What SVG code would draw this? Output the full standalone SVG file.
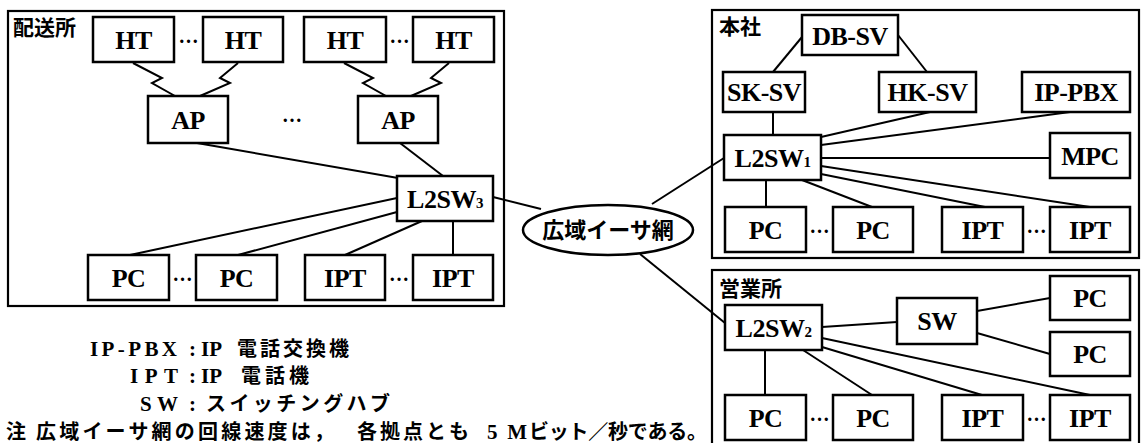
<svg xmlns="http://www.w3.org/2000/svg" width="1147" height="443" viewBox="0 0 1147 443">
<style>
.frame{fill:none;stroke:#000;stroke-width:2.2}
.box{fill:#fff;stroke:#000;stroke-width:2.5}
.wan{fill:#fff;stroke:#000;stroke-width:2.5}
.lbl{font-family:"Liberation Serif",serif;font-weight:bold;font-size:26px;letter-spacing:-0.5px;text-anchor:middle;fill:#000}
.sub{font-size:15px}
.area{font-family:"Noto Sans CJK JP",sans-serif;font-weight:bold;font-size:21px;fill:#000}
.dots{font-family:"Liberation Serif",serif;font-weight:bold;font-size:20px;text-anchor:middle;fill:#000}
.jp{font-family:"Noto Sans CJK JP",sans-serif;font-weight:bold;font-size:22px;fill:#000}
.jl{font-family:"Noto Sans CJK JP",sans-serif;font-weight:bold;font-size:20px;fill:#000}
.lat{font-family:"Liberation Serif",serif;font-weight:bold;font-size:21px;fill:#000}
#connectors line,#connectors polyline{stroke:#000;stroke-width:2;fill:none}
</style>

<g id="area-haisou"><rect class="frame" x="8" y="11" width="496" height="295"/><text class="area" x="13" y="35">配送所</text></g>
<g id="area-honsha"><rect class="frame" x="712" y="10" width="427" height="248"/><text class="area" x="719" y="34">本社</text></g>
<g id="area-eigyo"><rect class="frame" x="712" y="270" width="427" height="180"/><text class="area" x="719" y="296">営業所</text></g>

<g id="connectors">
  <polyline points="133,63 162,78 152,83 175,96"/>
  <polyline points="238,63 220,78 230,83 200,96"/>
  <polyline points="344,63 373,78 363,83 386,96"/>
  <polyline points="449,63 431,78 441,83 411,96"/>
  <line x1="197" y1="143" x2="398" y2="178"/>
  <line x1="400" y1="143" x2="443" y2="176"/>
  <line x1="397" y1="198" x2="130" y2="255"/>
  <line x1="397" y1="212" x2="238" y2="255"/>
  <line x1="422" y1="221" x2="345" y2="255"/>
  <line x1="453" y1="221" x2="453" y2="255"/>
  <line x1="493" y1="197" x2="541" y2="209"/>
  <line x1="652" y1="204" x2="724" y2="158"/>
  <line x1="640" y1="254" x2="725" y2="323"/>
  <line x1="802" y1="37" x2="773" y2="72"/>
  <line x1="898" y1="35" x2="927" y2="72"/>
  <line x1="773" y1="112" x2="773" y2="135"/>
  <line x1="930" y1="112" x2="821" y2="137"/>
  <line x1="1070" y1="112" x2="821" y2="145"/>
  <line x1="821" y1="158" x2="1050" y2="158"/>
  <line x1="821" y1="166" x2="1090" y2="207"/>
  <line x1="821" y1="174" x2="985" y2="207"/>
  <line x1="802" y1="180" x2="872" y2="207"/>
  <line x1="766" y1="180" x2="766" y2="207"/>
  <line x1="822" y1="327" x2="897" y2="322"/>
  <line x1="977" y1="311" x2="1050" y2="298"/>
  <line x1="977" y1="333" x2="1050" y2="354"/>
  <line x1="822" y1="338" x2="1090" y2="395"/>
  <line x1="822" y1="347" x2="982" y2="395"/>
  <line x1="803" y1="350" x2="872" y2="395"/>
  <line x1="765" y1="350" x2="765" y2="395"/>
</g>

<g id="ht1"><rect class="box" x="93" y="17" width="81" height="45"/><text class="lbl" x="133.5" y="49">HT</text></g>
<g id="ht2"><rect class="box" x="203" y="17" width="80" height="45"/><text class="lbl" x="243" y="49">HT</text></g>
<g id="ht3"><rect class="box" x="304" y="17" width="82" height="45"/><text class="lbl" x="345" y="49">HT</text></g>
<g id="ht4"><rect class="box" x="413" y="17" width="81" height="45"/><text class="lbl" x="453.5" y="49">HT</text></g>
<g id="ap1"><rect class="box" x="148" y="96" width="80" height="47"/><text class="lbl" x="188" y="129">AP</text></g>
<g id="ap2"><rect class="box" x="358" y="96" width="80" height="47"/><text class="lbl" x="398" y="129">AP</text></g>
<g id="l2sw3"><rect class="box" x="397" y="176" width="96" height="45"/><text class="lbl" x="445" y="208">L2SW<tspan class="sub">3</tspan></text></g>
<g id="pc-h1"><rect class="box" x="88" y="255" width="81" height="45"/><text class="lbl" x="128.5" y="287">PC</text></g>
<g id="pc-h2"><rect class="box" x="196" y="255" width="81" height="45"/><text class="lbl" x="236.5" y="287">PC</text></g>
<g id="ipt-h1"><rect class="box" x="305" y="255" width="80" height="45"/><text class="lbl" x="345" y="287">IPT</text></g>
<g id="ipt-h2"><rect class="box" x="413" y="255" width="80" height="45"/><text class="lbl" x="453" y="287">IPT</text></g>
<g id="dots-h"><text class="dots" x="188.5" y="43">…</text><text class="dots" x="399.5" y="43">…</text><text class="dots" x="292" y="122">…</text><text class="dots" x="182.5" y="281">…</text><text class="dots" x="399" y="281">…</text></g>

<g id="wan"><ellipse class="wan" cx="608" cy="230" rx="85" ry="25"/><text class="jp" x="608" y="238" text-anchor="middle">広域イーサ網</text></g>

<g id="dbsv"><rect class="box" x="802" y="15" width="96" height="40"/><text class="lbl" x="850" y="45">DB-SV</text></g>
<g id="sksv"><rect class="box" x="723" y="72" width="82" height="40"/><text class="lbl" x="764" y="101">SK-SV</text></g>
<g id="hksv"><rect class="box" x="879" y="72" width="97" height="40"/><text class="lbl" x="927.5" y="101">HK-SV</text></g>
<g id="ippbx"><rect class="box" x="1022" y="72" width="108" height="40"/><text class="lbl" x="1076" y="101">IP-PBX</text></g>
<g id="l2sw1"><rect class="box" x="724" y="135" width="97" height="45"/><text class="lbl" x="772.5" y="167">L2SW<tspan class="sub">1</tspan></text></g>
<g id="mpc"><rect class="box" x="1050" y="133" width="80" height="45"/><text class="lbl" x="1090" y="165">MPC</text></g>
<g id="pc-s1"><rect class="box" x="725" y="207" width="81" height="45"/><text class="lbl" x="765.5" y="239">PC</text></g>
<g id="pc-s2"><rect class="box" x="833" y="207" width="80" height="45"/><text class="lbl" x="873" y="239">PC</text></g>
<g id="ipt-s1"><rect class="box" x="942" y="207" width="81" height="45"/><text class="lbl" x="982.5" y="239">IPT</text></g>
<g id="ipt-s2"><rect class="box" x="1050" y="207" width="80" height="45"/><text class="lbl" x="1090" y="239">IPT</text></g>
<g id="dots-s"><text class="dots" x="819.5" y="233">…</text><text class="dots" x="1036.5" y="233">…</text></g>

<g id="l2sw2"><rect class="box" x="725" y="305" width="97" height="45"/><text class="lbl" x="773.5" y="337">L2SW<tspan class="sub">2</tspan></text></g>
<g id="sw"><rect class="box" x="897" y="298" width="80" height="46"/><text class="lbl" x="937" y="330">SW</text></g>
<g id="pc-e3"><rect class="box" x="1050" y="276" width="80" height="44"/><text class="lbl" x="1090" y="307">PC</text></g>
<g id="pc-e4"><rect class="box" x="1050" y="332" width="80" height="44"/><text class="lbl" x="1090" y="363">PC</text></g>
<g id="pc-e1"><rect class="box" x="725" y="395" width="81" height="45"/><text class="lbl" x="765.5" y="427">PC</text></g>
<g id="pc-e2"><rect class="box" x="833" y="395" width="80" height="45"/><text class="lbl" x="873" y="427">PC</text></g>
<g id="ipt-e1"><rect class="box" x="942" y="395" width="81" height="45"/><text class="lbl" x="982.5" y="427">IPT</text></g>
<g id="ipt-e2"><rect class="box" x="1050" y="395" width="80" height="45"/><text class="lbl" x="1090" y="427">IPT</text></g>
<g id="dots-e"><text class="dots" x="819.5" y="421">…</text><text class="dots" x="1036.5" y="421">…</text></g>

<g id="legend">
  <text class="lat" x="90" y="356" textLength="87" lengthAdjust="spacing">IP-PBX</text>
  <text class="lat" x="189" y="356">:</text>
  <text class="lat" x="201" y="356">IP</text>
  <text class="jl" x="237" y="356" textLength="112" lengthAdjust="spacing">電話交換機</text>
  <text class="lat" x="130" y="383" textLength="48" lengthAdjust="spacing">IPT</text>
  <text class="lat" x="189" y="383">:</text>
  <text class="lat" x="201" y="383">IP</text>
  <text class="jl" x="241" y="383" textLength="68" lengthAdjust="spacing">電話機</text>
  <text class="lat" x="140" y="411" textLength="38" lengthAdjust="spacing">SW</text>
  <text class="lat" x="189" y="411">:</text>
  <text class="jl" x="206" y="411" textLength="184" lengthAdjust="spacing">スイッチングハブ</text>
  <text class="jl" x="6" y="439">注</text>
  <text class="jl" x="36" y="439" textLength="298" lengthAdjust="spacing">広域イーサ網の回線速度は，</text>
  <text class="jl" x="357" y="439" textLength="112" lengthAdjust="spacing">各拠点とも</text>
  <text class="lat" x="487" y="439" textLength="40" lengthAdjust="spacing">5M</text>
  <text class="jl" x="529" y="439" textLength="178" lengthAdjust="spacing">ビット／秒である。</text>
</g>
</svg>
